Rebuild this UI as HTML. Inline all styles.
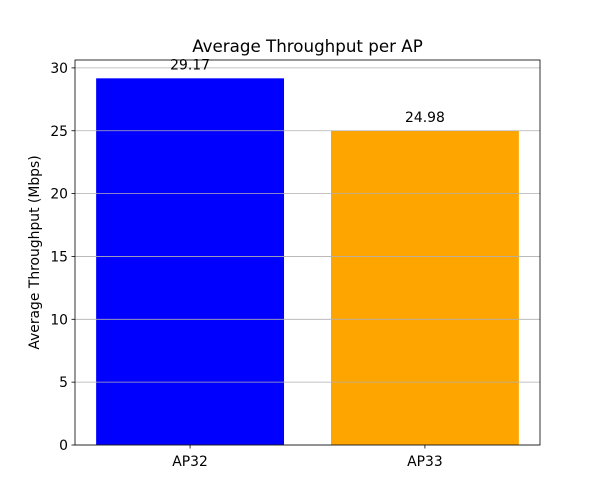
<!DOCTYPE html>
<html><head><meta charset="utf-8"><style>
body{margin:0;background:#fff;}
svg{display:block;font-family:"DejaVu Sans","Liberation Sans",sans-serif;}
</style></head><body>
<svg id="chart" width="600" height="500"></svg>
<script>
const categories = ["AP32","AP33"];
const values = [29.17, 24.98];
const labels = ["29.17","24.98"];
const colors = ["#0000ff","#ffa500"];
const yTicks = [0,5,10,15,20,25,30];

const NS="http://www.w3.org/2000/svg";
const svg=document.getElementById('chart');
const L=75,R=540,T=60,B=445;
const ymax=Math.max(...values)*1.05;
const y=v=>B-(v/ymax)*(B-T);
const xmin=-0.49,xmax=categories.length-1+0.49;
const x=v=>L+(v-xmin)/(xmax-xmin)*(R-L);
function el(tag,attrs,parent){const e=document.createElementNS(NS,tag);for(const k in attrs)e.setAttribute(k,attrs[k]);(parent||svg).appendChild(e);return e;}

const title=el('text',{x:(L+R)/2,y:52,'text-anchor':'middle','font-size':16.7,fill:'#000'});
title.textContent='Average Throughput per AP';



values.forEach((v,i)=>{
  const r=el('rect',{x:x(i-0.4),y:y(v),width:x(i+0.4)-x(i-0.4),height:B-y(v),fill:colors[i]});
  
  
});

yTicks.forEach(t=>{
  const g=el('line',{x1:L,x2:R,y1:y(t),y2:y(t),stroke:'#b0b0b0','stroke-width':0.8});
  
  
  el('line',{x1:L-3.5,x2:L,y1:y(t),y2:y(t),stroke:'#000','stroke-width':0.8});
  const tx=el('text',{x:L-7,y:y(t)+5,'text-anchor':'end','font-size':13.9,fill:'#000'});
  tx.textContent=t;
  
  
});

values.forEach((v,i)=>{
  const tx=el('text',{x:x(i),y:y(v)-9,'text-anchor':'middle','font-size':13.9,fill:'#000'});
  tx.textContent=labels[i];
  
  
  el('line',{x1:x(i),x2:x(i),y1:B,y2:B+3.5,stroke:'#000','stroke-width':0.8});
  const cl=el('text',{x:x(i),y:B+21,'text-anchor':'middle','font-size':13.9,fill:'#000'});
  cl.textContent=categories[i];
  
  
});

const frame=el('rect',{x:L,y:T,width:R-L,height:B-T,fill:'none',stroke:'#000','stroke-width':0.8});



const yl=el('text',{x:0,y:0,'text-anchor':'middle','font-size':13.9,fill:'#000',transform:`translate(39,${(T+B)/2}) rotate(-90)`});
yl.textContent='Average Throughput (Mbps)';


</script>
</body></html>
